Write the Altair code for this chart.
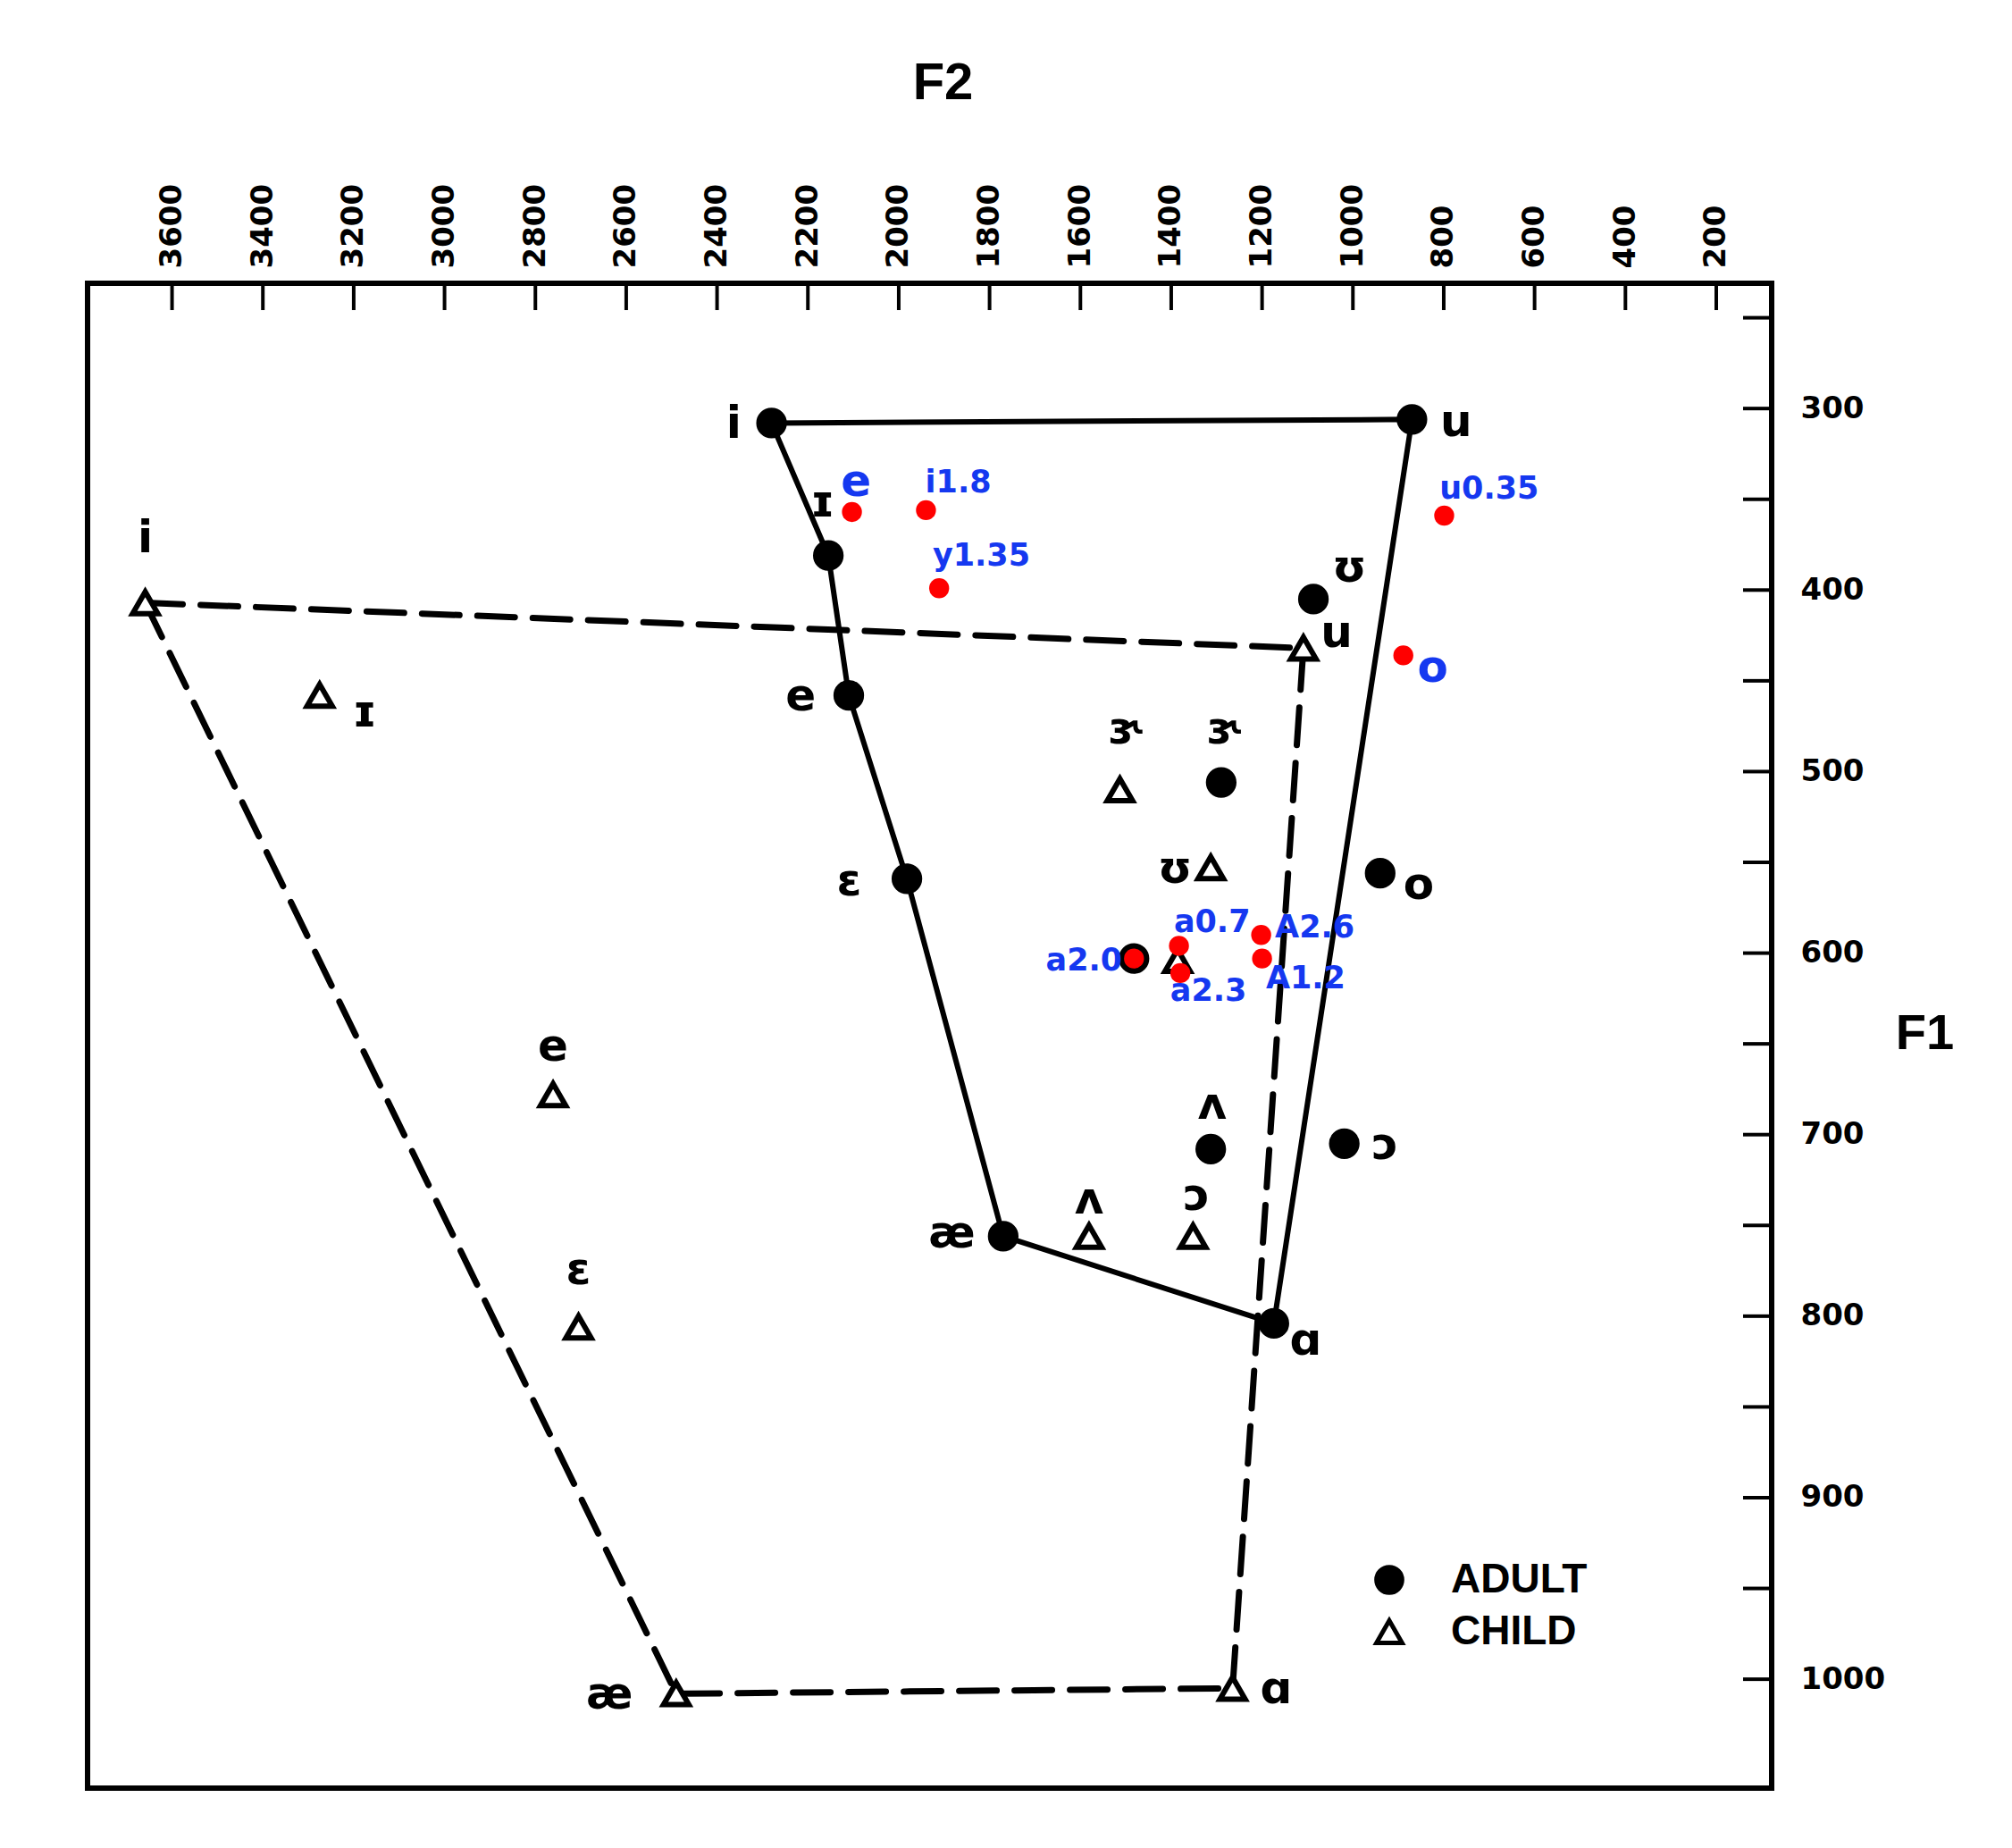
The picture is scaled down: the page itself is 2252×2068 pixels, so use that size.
import altair as alt
import pandas as pd

# ---------------- data ----------------
# Adult vowels (filled circles); last entry is an unlabeled point
adult_vowels = ["i", "ɪ", "e", "ɛ", "æ", "ɑ", "u", "ʊ", "o", "ɔ", "ʌ", "ɝ", ""]
adult_f2 = [2280, 2155, 2110, 1982, 1770, 1174, 870, 1087, 940, 1019, 1313, 1290, 1482]
adult_f1 = [308, 381, 458, 559, 756, 804, 306, 405, 556, 705, 708, 506, 603]
adult_lab_f2 = [2363, 2168, 2216, 2109, 1883, 1104, 773, 1008, 855, 929, 1310, 1282, None]
adult_lab_f1 = [309, 352, 459, 561, 755, 814, 308, 388, 563, 706, 684, 477, None]

# Child vowels (open triangles); last entry is an unlabeled point
child_vowels = ["i", "ɪ", "e", "ɛ", "æ", "ɑ", "u", "ʊ", "ɔ", "ʌ", "ɝ", ""]
child_f2 = [3659, 3275, 2761, 2705, 2490, 1265, 1109, 1313, 1352, 1581, 1513, 1386]
child_f1 = [407, 458, 678, 806, 1008, 1005, 432, 553, 756, 756, 510, 604]
child_lab_f2 = [3659, 3176, 2761, 2705, 2637, 1169, 1036, 1392, 1344, 1581, 1499, None]
child_lab_f1 = [372, 468, 652, 775, 1009, 1006, 424, 554, 734, 736, 477, None]

# Vowel quadrilaterals
adult_outline = ["i", "u", "ɑ", "æ", "ɛ", "e", "ɪ", "i"]
child_outline = ["i", "u", "ɑ", "æ", "i"]

# Overlaid red points with blue labels
red_labels = ["e", "i1.8", "y1.35", "u0.35", "o", "a2.0", "a0.7", "a2.3", "A2.6", "A1.2"]
red_f2 = [2103, 1940, 1911, 799, 889, 1482, 1383, 1380, 1202, 1200]
red_f1 = [357, 356, 399, 359, 436, 603, 596, 611, 590, 603]
red_lab_f2 = [2094, 1869, 1818, 700, 824, 1592, 1310, 1318, 1084, 1104]
red_lab_f1 = [341, 341, 381, 344, 443, 604, 583, 621, 586, 614]

# Axes
f2_ticks = [3600, 3400, 3200, 3000, 2800, 2600, 2400, 2200, 2000, 1800,
            1600, 1400, 1200, 1000, 800, 600, 400, 200]
f1_labels = [300, 400, 500, 600, 700, 800, 900, 1000]
f1_ticks = [250, 300, 350, 400, 450, 500, 550, 600, 650, 700, 750, 800,
            850, 900, 950, 1000]
f2_domain = [78, 3786]
f1_domain = [231, 1060]

# ---------------- tables ----------------
pts = pd.DataFrame({
    "F2": adult_f2 + child_f2,
    "F1": adult_f1 + child_f1,
    "group": ["ADULT"] * len(adult_f2) + ["CHILD"] * len(child_f2),
})

def outline(vowels, f2, f1, order):
    lookup = {v: (a, b) for v, a, b in zip(vowels, f2, f1) if v}
    return pd.DataFrame({
        "seq": list(range(len(order))),
        "F2": [lookup[v][0] for v in order],
        "F1": [lookup[v][1] for v in order],
    })

adult_poly = outline(adult_vowels, adult_f2, adult_f1, adult_outline)
child_poly = outline(child_vowels, child_f2, child_f1, child_outline)

labs = pd.DataFrame({
    "F2": adult_lab_f2 + child_lab_f2,
    "F1": adult_lab_f1 + child_lab_f1,
    "txt": adult_vowels + child_vowels,
}).dropna()
labs = labs[labs["txt"] != ""]

red = pd.DataFrame({"F2": red_f2, "F1": red_f1})
blue = pd.DataFrame({"F2": red_lab_f2, "F1": red_lab_f1, "txt": red_labels})
blue_big = blue[blue["txt"].str.len() == 1]
blue_small = blue[blue["txt"].str.len() > 1]

top_ticks = pd.DataFrame({"F2": f2_ticks})
right_ticks = pd.DataFrame({"F1": f1_ticks})

# ---------------- layout ----------------
W, H = 1885, 1684
PAD_L, PAD_T = 98, 317
TOTAL_W, TOTAL_H = 2252, 2068

xs = alt.Scale(domain=f2_domain, reverse=True, zero=False, nice=False)
ys = alt.Scale(domain=f1_domain, reverse=True, zero=False, nice=False)

x_axis = alt.Axis(
    orient="top", values=f2_ticks, format="d", ticks=False, domain=False, grid=False,
    labelAngle=270, labelAlign="left", labelBaseline="middle",
    labelFont="DejaVu Sans", labelFontWeight="bold", labelFontSize=34,
    labelColor="black", labelPadding=17, labelOverlap=False, labelFlush=False,
    title="F2", titleFont="Liberation Sans", titleFontWeight="bold",
    titleFontSize=58, titleColor="black", titleX=957, titleY=-224,
    titleAlign="center", titleBaseline="middle", titleAngle=0,
)
y_axis = alt.Axis(
    orient="right", values=f1_labels, format="d", ticks=False, domain=False, grid=False,
    labelAlign="left", labelBaseline="middle",
    labelFont="DejaVu Sans", labelFontWeight="bold", labelFontSize=34,
    labelColor="black", labelPadding=32, labelOverlap=False, labelFlush=False,
    title="F1", titleFont="Liberation Sans", titleFontWeight="bold",
    titleFontSize=56, titleColor="black", titleX=171, titleY=839,
    titleAlign="center", titleBaseline="middle", titleAngle=0,
)

X = alt.X("F2:Q", scale=xs, axis=x_axis)
Y = alt.Y("F1:Q", scale=ys, axis=y_axis)

adult_line = alt.Chart(adult_poly).mark_line(
    color="black", strokeWidth=6, strokeCap="round", strokeJoin="round"
).encode(x=X, y=Y, order="seq:Q")

child_line = alt.Chart(child_poly).mark_line(
    color="black", strokeWidth=7, strokeDash=[42, 20], strokeCap="round"
).encode(x=X, y=Y, order="seq:Q")

top_tick_layer = alt.Chart(top_ticks).mark_rule(color="black", strokeWidth=4).encode(
    x=X, y=alt.value(0), y2=alt.value(30)
)
right_tick_layer = alt.Chart(right_ticks).mark_rule(color="black", strokeWidth=4).encode(
    y=Y, x=alt.value(W - 32), x2=alt.value(W)
)

groups = ["ADULT", "CHILD"]
legend = alt.Legend(
    orient="none", legendX=1434, legendY=1428, title=None, padding=0,
    labelFont="Liberation Sans", labelFontWeight="bold", labelFontSize=46,
    labelColor="black", symbolSize=820, symbolStrokeWidth=5,
    labelOffset=46, rowPadding=10,
)
points = alt.Chart(pts).mark_point(
    filled=True, strokeWidth=6, opacity=1, size=800
).encode(
    x=X, y=Y,
    shape=alt.Shape("group:N", scale=alt.Scale(domain=groups,
                                                range=["circle", "triangle-up"]),
                    legend=legend),
    fill=alt.Fill("group:N", scale=alt.Scale(domain=groups,
                                              range=["black", "white"]),
                  legend=legend),
    stroke=alt.Stroke("group:N", scale=alt.Scale(domain=groups,
                                                  range=["black", "black"]),
                      legend=legend),
)

red_layer = alt.Chart(red).mark_circle(color="#ff0000", size=500, opacity=1).encode(
    x=X, y=Y
)

black_labels = alt.Chart(labs).mark_text(
    font="DejaVu Sans", fontWeight="bold", fontSize=50, color="black",
    align="center", baseline="middle"
).encode(x=X, y=Y, text="txt:N")

blue_small_layer = alt.Chart(blue_small).mark_text(
    font="DejaVu Sans", fontWeight="bold", fontSize=35, color="#1538f0",
    align="center", baseline="middle"
).encode(x=X, y=Y, text="txt:N")

blue_big_layer = alt.Chart(blue_big).mark_text(
    font="DejaVu Sans", fontWeight="bold", fontSize=50, color="#1538f0",
    align="center", baseline="middle"
).encode(x=X, y=Y, text="txt:N")

chart = alt.layer(
    adult_line, child_line, top_tick_layer, right_tick_layer, points,
    red_layer, black_labels, blue_small_layer, blue_big_layer
).properties(
    width=W, height=H,
    autosize=alt.AutoSizeParams(type="none"),
    padding={"left": PAD_L, "top": PAD_T,
             "right": TOTAL_W - PAD_L - W, "bottom": TOTAL_H - PAD_T - H},
    background="white",
).configure_view(stroke="black", strokeWidth=6)

chart.save("out.html", embed_options={"renderer": "svg", "actions": False})
